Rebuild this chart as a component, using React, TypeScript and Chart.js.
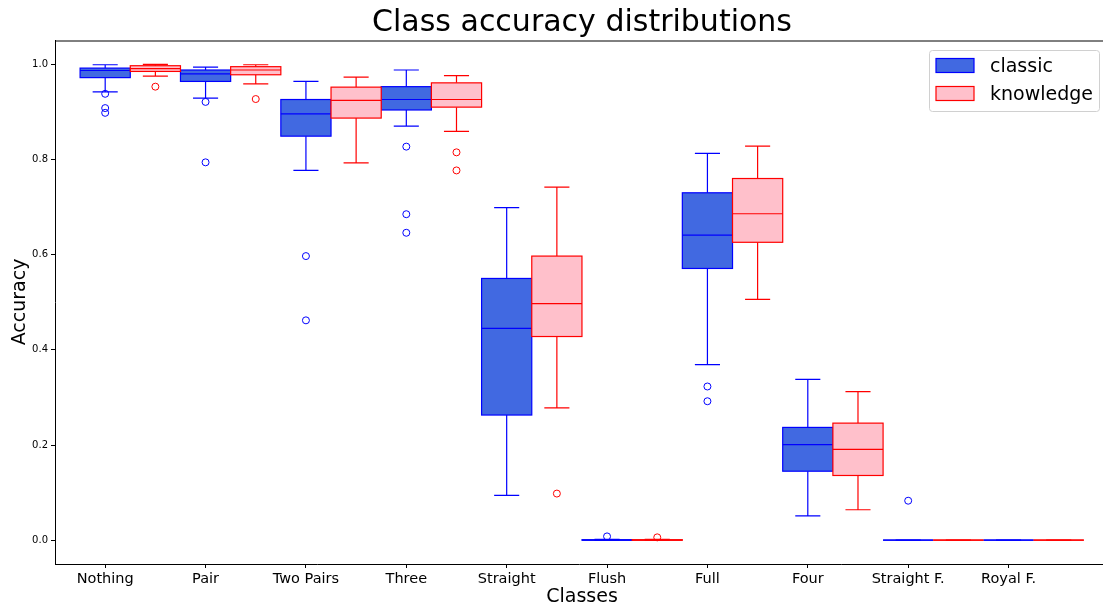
import React, { useEffect, useRef } from 'react';
import { Chart, registerables } from 'chart.js';
Chart.register(...registerables);

const categories = ['Nothing', 'Pair', 'Two Pairs', 'Three', 'Straight', 'Flush', 'Full', 'Four', 'Straight F.', 'Royal F.'];
const yTicks = [0.0, 0.2, 0.4, 0.6, 0.8, 1.0];

const classicLow = [0.942, 0.929, 0.777, 0.870, 0.094, 0.000, 0.369, 0.051, 0, 0];
const classicQ1 = [0.972, 0.964, 0.849, 0.904, 0.263, 0.000, 0.571, 0.145, 0, 0];
const classicMed = [0.987, 0.980, 0.896, 0.926, 0.445, 0.000, 0.641, 0.201, 0, 0];
const classicQ3 = [0.992, 0.988, 0.926, 0.953, 0.550, 0.001, 0.730, 0.237, 0, 0];
const classicHigh = [0.999, 0.994, 0.964, 0.988, 0.699, 0.002, 0.813, 0.338, 0, 0];
const classicOutliers = [[0.938, 0.908, 0.898], [0.921, 0.794], [0.597, 0.462], [0.827, 0.685, 0.646], [], [0.008], [0.323, 0.292], [], [0.083], []];

const knowledgeLow = [0.975, 0.959, 0.793, 0.859, 0.278, 0.000, 0.506, 0.064, 0, 0];
const knowledgeQ1 = [0.985, 0.978, 0.887, 0.910, 0.428, 0.000, 0.626, 0.136, 0, 0];
const knowledgeMed = [0.991, 0.988, 0.924, 0.926, 0.497, 0.000, 0.686, 0.191, 0, 0];
const knowledgeQ3 = [0.997, 0.995, 0.952, 0.961, 0.597, 0.001, 0.760, 0.246, 0, 0];
const knowledgeHigh = [1.0, 0.999, 0.973, 0.976, 0.742, 0.002, 0.828, 0.312, 0, 0];
const knowledgeOutliers = [[0.953], [0.927], [], [0.815, 0.777], [0.098], [0.006], [], [], [], []];

const FONT = '"DejaVu Sans", sans-serif';

const series = [
  { name: 'classic', offset: 0, fill: '#4169E1', edge: '#0000FF', low: classicLow, q1: classicQ1, med: classicMed, q3: classicQ3, high: classicHigh, out: classicOutliers },
  { name: 'knowledge', offset: 0.5, fill: '#FFC0CB', edge: '#FF0000', low: knowledgeLow, q1: knowledgeQ1, med: knowledgeMed, q3: knowledgeQ3, high: knowledgeHigh, out: knowledgeOutliers },
];

const boxPlugin = {
  id: 'boxes',
  beforeDatasetsDraw(chart: any) {
    const { ctx, scales } = chart;
    const xs = scales.x, ys = scales.y;
    ctx.save();
    ctx.lineWidth = 1.2;
    series.forEach((s) => {
      categories.forEach((_, i) => {
        const xc = i + s.offset;
        const x0 = xs.getPixelForValue(xc - 0.25);
        const x1 = xs.getPixelForValue(xc + 0.25);
        const cx = xs.getPixelForValue(xc);
        const c0 = xs.getPixelForValue(xc - 0.125);
        const c1 = xs.getPixelForValue(xc + 0.125);
        const yl = ys.getPixelForValue(s.low[i]);
        const yq1 = ys.getPixelForValue(s.q1[i]);
        const ym = ys.getPixelForValue(s.med[i]);
        const yq3 = ys.getPixelForValue(s.q3[i]);
        const yh = ys.getPixelForValue(s.high[i]);
        ctx.strokeStyle = s.edge;
        ctx.beginPath();
        ctx.moveTo(cx, yq1); ctx.lineTo(cx, yl);
        ctx.moveTo(cx, yq3); ctx.lineTo(cx, yh);
        ctx.moveTo(c0, yl); ctx.lineTo(c1, yl);
        ctx.moveTo(c0, yh); ctx.lineTo(c1, yh);
        ctx.stroke();
        ctx.fillStyle = s.fill;
        ctx.fillRect(x0, yq3, x1 - x0, yq1 - yq3);
        ctx.strokeRect(x0, yq3, x1 - x0, yq1 - yq3);
        ctx.beginPath();
        ctx.moveTo(x0, ym); ctx.lineTo(x1, ym);
        ctx.stroke();
      });
    });
    ctx.restore();
  },
  afterDraw(chart: any) {
    const { ctx, chartArea } = chart;
    ctx.save();
    // top spine
    ctx.strokeStyle = '#000';
    ctx.lineWidth = 1;
    ctx.beginPath();
    ctx.moveTo(chartArea.left, chartArea.top + 0.5);
    ctx.lineTo(chartArea.right, chartArea.top + 0.5);
    ctx.stroke();
    // title
    ctx.fillStyle = '#000';
    ctx.textAlign = 'center';
    ctx.textBaseline = 'middle';
    ctx.font = `30px ${FONT}`;
    ctx.fillText('Class accuracy distributions', 582, 23);
    ctx.font = `19px ${FONT}`;
    ctx.fillText('Classes', 582, 597);
    ctx.save();
    ctx.translate(20, 302);
    ctx.rotate(-Math.PI / 2);
    ctx.fillText('Accuracy', 0, 0);
    ctx.restore();
    // legend
    const lx = 929, ly = 50.5, lw = 170, lh = 61;
    ctx.fillStyle = 'rgba(255,255,255,0.8)';
    ctx.strokeStyle = '#d0d0d0';
    ctx.lineWidth = 1;
    ctx.beginPath();
    (ctx as any).roundRect(lx + 0.5, ly, lw, lh, 3);
    ctx.fill();
    ctx.stroke();
    ctx.font = `19px ${FONT}`;
    ctx.textAlign = 'left';
    series.forEach((s, k) => {
      const py = 58.5 + k * 28;
      ctx.fillStyle = s.fill;
      ctx.strokeStyle = s.edge;
      ctx.lineWidth = 1.2;
      ctx.fillRect(936, py, 38, 14);
      ctx.strokeRect(936, py, 38, 14);
      ctx.fillStyle = '#000';
      ctx.fillText(s.name, 990, py + 8.5);
    });
    ctx.restore();
  },
};

export default function App() {
  const ref = useRef<HTMLCanvasElement | null>(null);
  useEffect(() => {
    document.body.style.margin = '0';
    const datasets = series.map((s) => ({
      label: s.name,
      data: s.out.flatMap((vals, i) => vals.map((v) => ({ x: i + s.offset, y: v }))),
      pointStyle: 'circle',
      pointRadius: 3.5,
      pointBorderWidth: 1,
      borderColor: s.edge,
      backgroundColor: 'rgba(0,0,0,0)',
      pointBackgroundColor: 'rgba(0,0,0,0)',
      pointBorderColor: s.edge,
      showLine: false,
    }));
    const chart = new Chart(ref.current as HTMLCanvasElement, {
      type: 'scatter',
      data: { datasets } as any,
      plugins: [boxPlugin],
      options: {
        animation: false,
        responsive: false,
        devicePixelRatio: 1,
        layout: { autoPadding: false, padding: { top: 40.5, left: 0, right: 0, bottom: 0 } },
        plugins: { legend: { display: false }, title: { display: false }, tooltip: { enabled: false } },
        scales: {
          x: {
            type: 'linear',
            min: -0.5,
            max: 9.941,
            afterFit: (scale: any) => { scale.height = 44; scale.paddingLeft = 0; scale.paddingRight = 0; },
            afterBuildTicks: (scale: any) => { scale.ticks = categories.map((_, i) => ({ value: i })); },
            ticks: {
              callback: (v: any) => categories[Math.round(Number(v))] ?? '',
              font: { family: FONT, size: 14.5 },
              color: '#000',
              padding: 3,
              maxRotation: 0,
              autoSkip: false,
            },
            grid: { drawOnChartArea: false, drawTicks: true, tickLength: 4, color: '#000' },
            border: { display: true, color: '#000', width: 1 },
          },
          y: {
            type: 'linear',
            min: -0.05,
            max: 1.05,
            afterFit: (scale: any) => { scale.width = 55; scale.paddingTop = 0; scale.paddingBottom = 0; },
            afterBuildTicks: (scale: any) => { scale.ticks = yTicks.map((v) => ({ value: v })); },
            ticks: {
              callback: (v: any) => Number(v).toFixed(1),
              font: { family: FONT, size: 10 },
              color: '#000',
              padding: 3,
            },
            grid: { drawOnChartArea: false, drawTicks: true, tickLength: 4, color: '#000' },
            border: { display: true, color: '#000', width: 1 },
          },
        },
      } as any,
    });
    return () => chart.destroy();
  }, []);
  return (
    <div style={{ width: 1103, height: 608 }}>
      <canvas ref={ref} width={1103} height={608} style={{ display: 'block' }} />
    </div>
  );
}
